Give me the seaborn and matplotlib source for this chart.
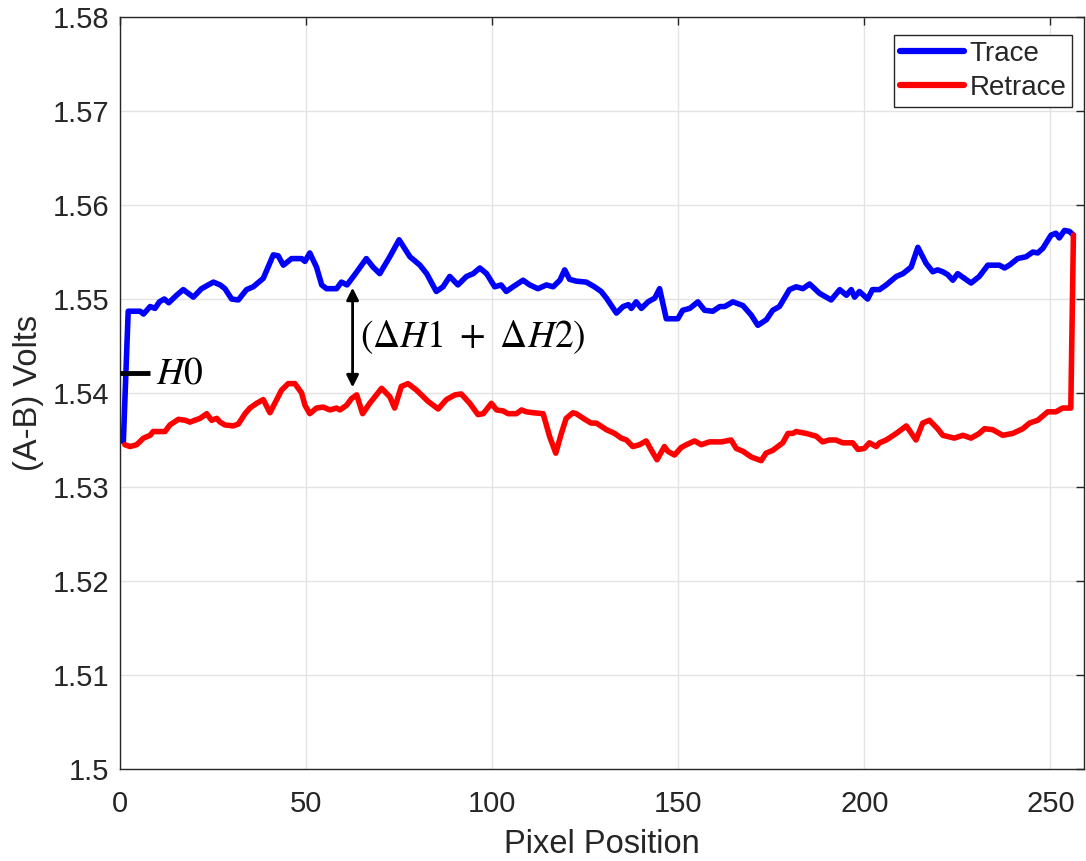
import numpy as np
import pandas as pd
import matplotlib
matplotlib.use("Agg")
import matplotlib.pyplot as plt
import seaborn as sns

# Trace: scan from left to right
trace_x = [0.9, 2.2, 5.4, 6.3, 8.1, 9.4, 10.6, 11.9, 13.1, 15.2, 17.0, 19.7, 21.9, 25.1,
           26.9, 28.2, 30.0, 31.8, 34.0, 35.8, 38.5, 41.2, 42.5, 43.9, 46.1, 48.8, 49.7,
           51.0, 52.8, 54.2, 55.5, 58.2, 59.5, 61.0, 63.1, 66.2, 68.0, 69.8, 72.5, 75.0,
           77.9, 80.6, 82.4, 85.0, 86.8, 88.6, 90.8, 93.1, 94.9, 96.7, 98.5, 100.7, 102.4,
           103.8, 105.6, 108.3, 110.1, 112.3, 114.6, 116.4, 118.2, 119.5, 120.8, 122.6,
           125.3, 127.5, 129.3, 130.7, 133.4, 135.2, 136.6, 137.4, 138.7, 140.1, 141.9,
           143.7, 145.0, 146.8, 149.9, 151.2, 153.1, 155.3, 157.1, 159.3, 161.2, 162.5,
           164.7, 167.4, 169.6, 171.4, 173.7, 175.4, 177.2, 179.9, 181.7, 183.5, 185.3,
           188.0, 191.1, 193.4, 195.2, 196.5, 197.4, 198.7, 200.9, 202.2, 204.1, 205.9,
           208.6, 210.4, 212.6, 214.4, 216.6, 218.4, 219.7, 221.1, 222.4, 223.8, 225.1,
           226.9, 228.7, 230.9, 233.2, 236.3, 237.7, 239.0, 241.2, 243.5, 245.3, 246.6,
           248.0, 250.2, 251.5, 252.4, 253.8, 255.1, 256.2]
trace_y = [1.5348, 1.5487, 1.5487, 1.5484, 1.5492, 1.5490, 1.5497, 1.5500, 1.5496, 1.5504,
           1.5510, 1.5502, 1.5511, 1.5518, 1.5515, 1.5511, 1.5500, 1.5499, 1.5510, 1.5513,
           1.5522, 1.5547, 1.5546, 1.5536, 1.5543, 1.5543, 1.5540, 1.5549, 1.5534, 1.5515,
           1.5511, 1.5511, 1.5518, 1.5515, 1.5526, 1.5543, 1.5534, 1.5527, 1.5545, 1.5563,
           1.5545, 1.5536, 1.5527, 1.5508, 1.5513, 1.5524, 1.5515, 1.5524, 1.5527, 1.5533,
           1.5527, 1.5513, 1.5515, 1.5508, 1.5513, 1.5520, 1.5515, 1.5511, 1.5515, 1.5513,
           1.5520, 1.5531, 1.5521, 1.5519, 1.5518, 1.5513, 1.5508, 1.5501, 1.5485, 1.5492,
           1.5494, 1.5490, 1.5497, 1.5490, 1.5497, 1.5501, 1.5511, 1.5479, 1.5479, 1.5488,
           1.5490, 1.5497, 1.5488, 1.5487, 1.5492, 1.5492, 1.5497, 1.5493, 1.5483, 1.5472,
           1.5478, 1.5488, 1.5492, 1.5510, 1.5513, 1.5511, 1.5516, 1.5506, 1.5499, 1.5510,
           1.5504, 1.5510, 1.5502, 1.5508, 1.5500, 1.5510, 1.5510, 1.5515, 1.5524, 1.5527,
           1.5534, 1.5555, 1.5538, 1.5529, 1.5531, 1.5529, 1.5526, 1.5520, 1.5527, 1.5522,
           1.5517, 1.5524, 1.5536, 1.5536, 1.5533, 1.5536, 1.5543, 1.5545, 1.5550, 1.5549,
           1.5554, 1.5568, 1.5570, 1.5565, 1.5573, 1.5572, 1.5568]

# Retrace: scan back from right to left
retrace_x = [256.2, 255.5, 253.3, 251.5, 249.3, 248.4, 246.6, 244.4, 242.6, 239.9, 237.2,
             234.5, 232.3, 230.9, 228.7, 226.5, 224.2, 221.1, 219.7, 217.5, 215.7, 213.9,
             211.3, 208.6, 205.9, 204.1, 203.2, 201.4, 200.0, 198.3, 196.9, 194.2, 192.4,
             190.6, 188.8, 187.1, 184.4, 181.7, 180.8, 179.5, 178.1, 175.4, 173.6, 172.3,
             169.6, 167.4, 165.6, 164.2, 161.6, 158.4, 156.2, 154.4, 152.2, 150.8, 149.0,
             147.2, 146.3, 144.3, 142.8, 141.4, 139.6, 137.8, 136.1, 134.7, 132.9, 130.7,
             128.0, 126.6, 124.9, 122.6, 121.7, 119.9, 118.6, 117.1, 115.5, 113.7, 111.0,
             109.2, 107.9, 106.5, 104.3, 102.9, 101.2, 99.8, 97.6, 96.2, 94.0, 91.7, 90.0,
             87.7, 85.5, 82.8, 79.7, 77.4, 75.6, 73.8, 72.5, 70.3, 68.5, 67.1, 65.2, 63.6,
             62.2, 60.9, 59.1, 58.2, 56.4, 54.6, 52.8, 51.0, 49.7, 48.8, 47.0, 45.2, 43.4,
             41.6, 40.3, 38.5, 36.7, 34.9, 33.6, 31.8, 30.4, 28.2, 26.9, 26.0, 24.6, 23.3,
             21.5, 20.1, 18.8, 17.5, 15.7, 13.4, 12.1, 8.9, 8.1, 6.3, 4.5, 2.7, 1.3]
retrace_y = [1.5568, 1.5384, 1.5384, 1.5380, 1.5380, 1.5377, 1.5371, 1.5368, 1.5362, 1.5357,
             1.5355, 1.5361, 1.5362, 1.5357, 1.5352, 1.5355, 1.5352, 1.5355, 1.5362, 1.5371,
             1.5368, 1.5350, 1.5365, 1.5357, 1.5350, 1.5347, 1.5343, 1.5347, 1.5341, 1.5340,
             1.5347, 1.5347, 1.5350, 1.5350, 1.5348, 1.5354, 1.5357, 1.5359, 1.5357, 1.5357,
             1.5347, 1.5339, 1.5336, 1.5328, 1.5332, 1.5338, 1.5341, 1.5350, 1.5348, 1.5348,
             1.5345, 1.5349, 1.5345, 1.5342, 1.5334, 1.5338, 1.5343, 1.5329, 1.5339, 1.5349,
             1.5345, 1.5343, 1.5350, 1.5352, 1.5357, 1.5361, 1.5368, 1.5368, 1.5372, 1.5378,
             1.5379, 1.5373, 1.5357, 1.5336, 1.5353, 1.5378, 1.5379, 1.5380, 1.5382, 1.5378,
             1.5378, 1.5381, 1.5382, 1.5389, 1.5378, 1.5377, 1.5389, 1.5399, 1.5398, 1.5393,
             1.5383, 1.5391, 1.5403, 1.5410, 1.5407, 1.5384, 1.5396, 1.5405, 1.5396, 1.5389,
             1.5378, 1.5398, 1.5394, 1.5387, 1.5382, 1.5384, 1.5382, 1.5385, 1.5384, 1.5378,
             1.5387, 1.5400, 1.5410, 1.5410, 1.5403, 1.5389, 1.5379, 1.5393, 1.5389, 1.5384,
             1.5378, 1.5367, 1.5365, 1.5366, 1.5369, 1.5373, 1.5371, 1.5378, 1.5373, 1.5371,
             1.5369, 1.5371, 1.5372, 1.5366, 1.5359, 1.5359, 1.5355, 1.5352, 1.5345, 1.5343,
             1.5345]

x_ticks = [0, 50, 100, 150, 200, 250]
y_ticks = [1.50, 1.51, 1.52, 1.53, 1.54, 1.55, 1.56, 1.57, 1.58]
y_tick_labels = ["1.5", "1.51", "1.52", "1.53", "1.54", "1.55", "1.56", "1.57", "1.58"]

h0_level = 1.5421
gap_x = 62.5
gap_top = 1.5512
gap_bottom = 1.5406

df = pd.concat([
    pd.DataFrame({"pos": trace_x, "volts": trace_y, "scan": "Trace"}),
    pd.DataFrame({"pos": retrace_x, "volts": retrace_y, "scan": "Retrace"}),
], ignore_index=True)

sns.set_theme(style="white")
plt.rcParams["font.family"] = ["Liberation Sans", "DejaVu Sans"]
plt.rcParams["mathtext.fontset"] = "stix"

fig = plt.figure(figsize=(10.86, 8.61), dpi=100)
ax = fig.add_axes([0.1105, 0.1069, 0.8875, 0.8733])

sns.lineplot(data=df, x="pos", y="volts", hue="scan", sort=False, estimator=None,
             palette={"Trace": "#0000ff", "Retrace": "#ff0000"}, linewidth=4.0,
             ax=ax, legend=True)

ax.set_xlim(0, 259)
ax.set_ylim(1.50, 1.58)
ax.set_xticks(x_ticks)
ax.set_yticks(y_ticks)
ax.set_yticklabels(y_tick_labels)
ax.grid(True, color="#e3e3e3", linewidth=1.0)
ax.set_axisbelow(True)

for s in ax.spines.values():
    s.set_color("#262626")
    s.set_linewidth(1.0)
ax.tick_params(axis="both", which="major", direction="in", length=6, width=1.0,
               colors="#262626", labelsize=21, top=True, right=True,
               labeltop=False, labelright=False)
ax.tick_params(axis="y", pad=8)
ax.tick_params(axis="x", pad=15)

ax.set_xlabel("Pixel Position", fontsize=23.5, color="#262626", labelpad=8)
ax.set_ylabel("(A-B) Volts", fontsize=23.5, color="#262626", labelpad=6)

# H0 marker on the left edge
ax.plot([0, 8], [h0_level, h0_level], color="black", linewidth=3.5, solid_capstyle="butt",
        zorder=5)
ax.text(9.7, h0_level, r"$H0$", fontsize=27, va="center", ha="left", color="black")

# double-headed arrow showing the gap between trace and retrace
ax.annotate("", xy=(gap_x, gap_top), xytext=(gap_x, gap_bottom),
            arrowprops=dict(arrowstyle="<|-|>", color="black", lw=2.0,
                            mutation_scale=18, shrinkA=0, shrinkB=0))
ax.text(gap_x + 2.0, (gap_top + gap_bottom) / 2, r"$(\Delta H1\ +\ \Delta H2)$",
        fontsize=27, va="center", ha="left", color="black")

leg = ax.legend(loc="upper right", bbox_to_anchor=(0.9876, 0.976), fontsize=20,
                frameon=True, fancybox=False, edgecolor="#262626", framealpha=1.0,
                handlelength=2.3, borderpad=0.2, labelspacing=0.3, handletextpad=0.2,
                borderaxespad=0.0)
leg.get_frame().set_linewidth(1.0)
for line in leg.get_lines():
    line.set_linewidth(4.5)

fig.savefig("out.png", dpi=100)
